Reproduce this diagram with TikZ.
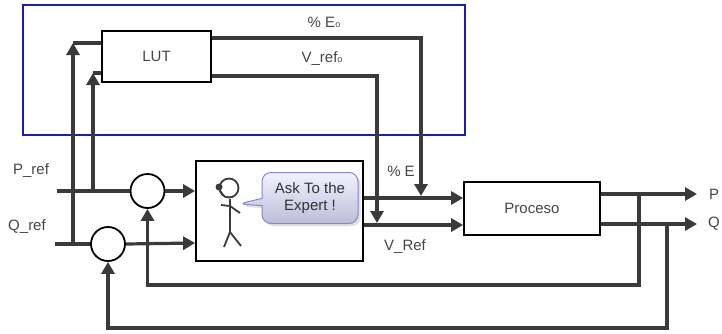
\documentclass[tikz,border=0pt]{standalone}
\usepackage{fontspec}
\setmainfont{Liberation Sans}
\usepackage{tikz}
\usetikzlibrary{shapes,shapes.callouts,arrows.meta,positioning,shadows}
\definecolor{wire}{HTML}{3A3A3A}
\definecolor{txt}{HTML}{4A4440}
\definecolor{framecol}{HTML}{1A1AC0}
\tikzstyle{block} = [rectangle, draw, line width=1.8pt, inner sep=0pt]
\tikzstyle{sumnode} = [circle, draw, line width=1.8pt, minimum size=34pt, inner sep=0pt]
\tikzstyle{lbl} = [text=txt, inner sep=0pt]
\tikzstyle{line} = [draw, wire, line width=3.2pt]
\tikzstyle{arrow} = [draw, wire, line width=3.2pt, -{Triangle[length=12pt,width=13pt]}]
\tikzstyle{bubble} = [rectangle callout, rounded corners=9pt, draw=blue!35!gray!70, line width=1pt,
  top color=blue!5, bottom color=blue!30!gray!40, drop shadow={opacity=0.25}, align=center,
  minimum width=96pt, minimum height=51pt, inner sep=2pt, text=black!80]

\begin{document}
\begin{tikzpicture}[x=1pt, y=-1pt, font=\fontsize{15}{17}\selectfont]
			\useasboundingbox (0,0) rectangle (722,333);
			% blue frame around the table part
			\draw [draw=framecol, line width=1.3pt] (23,5) rectangle (465,135);

			\node [block, minimum width=109pt, minimum height=51pt] (lut) at (156.5,56.5) {\color{txt}LUT};
			\node [block, minimum width=167pt, minimum height=100pt] (expert) at (279.5,211) {};
			\node [block, minimum width=136pt, minimum height=53pt] (proceso) at (532,208.5) {\color{txt}Proceso};
			\node [sumnode] (sum1) at (147.5,191) {};
			\node [sumnode] (sum2) at (108,244) {};

			\node [lbl] (pref) at (31,171) {P\_ref};
			\node [lbl] (qref) at (27,227) {Q\_ref};
			\node [lbl] (pl) at (714,194) {P};
			\node [lbl] (ql) at (714,224) {Q};
			\node [lbl] (eo) at (324,22) {\% E{\fontsize{9}{9}\selectfont o}};
			\node [lbl] (vo) at (322,59) {V\_ref{\fontsize{9}{9}\selectfont o}};
			\node [lbl] (e) at (401,171) {\% E};
			\node [lbl] (vr) at (405,247) {V\_Ref};

			\coordinate (pin) at (57,191);
			\coordinate (qin) at (55,244);
			\coordinate (pj) at (93,191);
			\coordinate (qj) at (73,244);
			\coordinate (lutp) at (93,73);
			\coordinate (lutq) at (73,43);
			\coordinate (pout) at (697,194);
			\coordinate (qout) at (697,224);
			\coordinate (pfb) at (639,194);
			\coordinate (qfb) at (667,224);

			% the expert
			\begin{scope}[wire, line width=1.8pt]
				\draw (229,188) circle (9.5);
				\fill (219,187) circle (3.5);
				\draw [line width=1pt] (220,190) -- (225,197) -- (233,197);
				\draw (230,199) -- (230,232);
				\draw (221,205) -- (230,206) -- (240,213);
				\draw (224,247) -- (230,232) -- (241,246);
			\end{scope}
			\node [bubble, callout absolute pointer={(238,204)}] (ask) at (310,198) {Ask To the\\Expert !};

			\path [line] (pin) -- (sum1);
			\path [line] (qin) -- (sum2);
			\path [arrow] (sum1.east) -- (sum1.east -| expert.west);
			\path [arrow] (sum2.east) -- ([yshift=1pt]sum2.east -| expert.west);
			\path [arrow] (qj) -- (lutq);
			\path [line] (lutq) -- (lutq -| lut.west);
			\path [arrow] (pj) -- (lutp);
			\path [line] (lutp) -- (lutp -| lut.west);

			\path [arrow] (lut.east |- 0,38) -| (421,196);
			\path [arrow] (lut.east |- 0,76) -| (377,223);

			\path [arrow] (expert.east |- 0,198) -- (proceso.west |- 0,198);
			\path [arrow] (expert.east |- 0,225) -- (proceso.west |- 0,225);
			\path [arrow] (proceso.east |- pout) -- (pout);
			\path [arrow] (proceso.east |- qout) -- (qout);

			\path [arrow] (pfb) |- (sum1 |- 0,285) -- (sum1.south);
			\path [arrow] (qfb) |- (sum2 |- 0,328) -- (sum2.south);
		\end{tikzpicture}
\end{document}
